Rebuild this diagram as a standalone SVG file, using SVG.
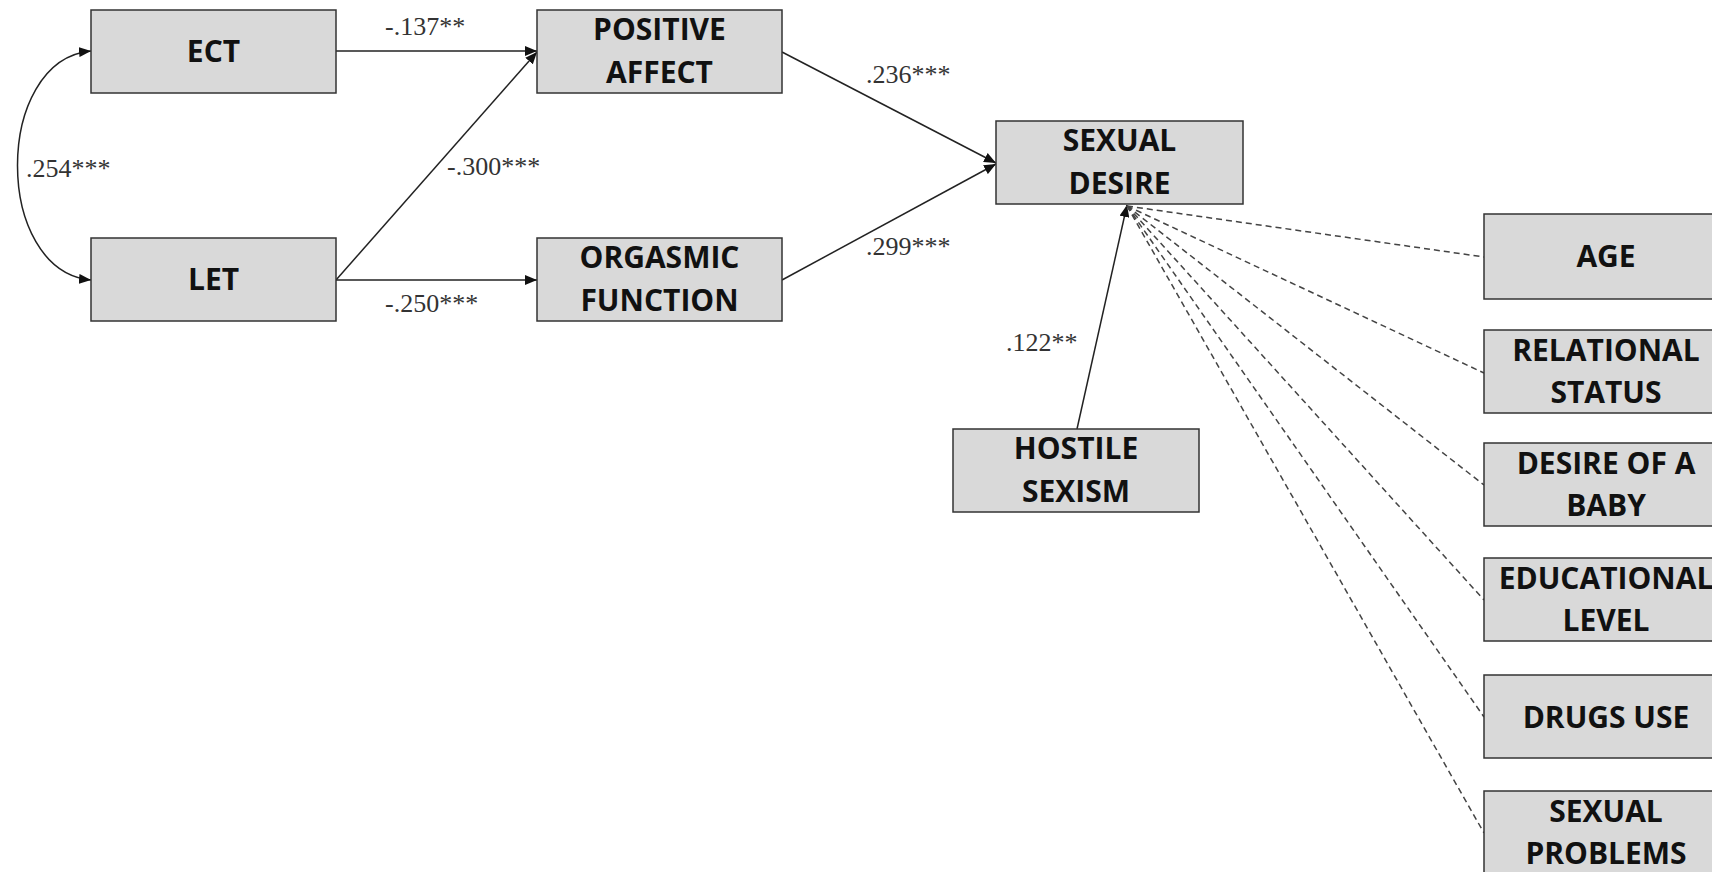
<svg xmlns="http://www.w3.org/2000/svg" width="1712" height="872" viewBox="0 0 1712 872">
<style>
.box{fill:#d9d9d9;stroke:#333;stroke-width:1.5}
.t{font-family:"Open Sans","Liberation Sans",sans-serif;font-weight:700;font-size:30px;fill:#111;text-anchor:middle}
.lbl{font-family:"Liberation Serif","Times New Roman",serif;font-size:26px;fill:#333}
.ln{fill:none;stroke:#222;stroke-width:1.5}
.ds{fill:none;stroke:#444;stroke-width:1.5;stroke-dasharray:6 4}
</style>
<defs>
<marker id="arr" viewBox="0 0 12 10" refX="12" refY="5" markerWidth="12" markerHeight="10" markerUnits="userSpaceOnUse" orient="auto-start-reverse">
<path d="M0,0 L12,5 L0,10 Z" fill="#111"/>
</marker>
</defs>
<rect width="1712" height="872" fill="#fff"/>
<g id="connectors">
<path class="ln" d="M91 51 C-7 60,-7 271,91 280" marker-start="url(#arr)" marker-end="url(#arr)"/>
<line class="ln" x1="336" y1="51" x2="537" y2="51" marker-end="url(#arr)"/>
<line class="ln" x1="336" y1="280" x2="537" y2="52" marker-end="url(#arr)"/>
<line class="ln" x1="336" y1="280" x2="537" y2="280" marker-end="url(#arr)"/>
<line class="ln" x1="782" y1="52" x2="996" y2="163" marker-end="url(#arr)"/>
<line class="ln" x1="782" y1="280" x2="996" y2="164" marker-end="url(#arr)"/>
<line class="ln" x1="1077" y1="429" x2="1127" y2="205" marker-end="url(#arr)"/>
<line class="ds" x1="1127" y1="206" x2="1484" y2="257"/>
<line class="ds" x1="1127" y1="206" x2="1484" y2="373"/>
<line class="ds" x1="1127" y1="206" x2="1484" y2="485"/>
<line class="ds" x1="1127" y1="206" x2="1484" y2="600"/>
<line class="ds" x1="1127" y1="206" x2="1484" y2="717"/>
<line class="ds" x1="1127" y1="206" x2="1484" y2="833"/>
<text class="lbl" x="385" y="35">-.137**</text>
<text class="lbl" x="26" y="177">.254***</text>
<text class="lbl" x="447" y="175">-.300***</text>
<text class="lbl" x="385" y="312">-.250***</text>
<text class="lbl" x="866" y="83">.236***</text>
<text class="lbl" x="866" y="255">.299***</text>
<text class="lbl" x="1006" y="351">.122**</text>
</g>
<g id="ect"><rect class="box" x="91" y="10" width="245" height="83"/><text class="t" x="213.5" y="62">ECT</text></g>
<g id="let"><rect class="box" x="91" y="238" width="245" height="83"/><text class="t" x="213.5" y="290">LET</text></g>
<g id="positive-affect"><rect class="box" x="537" y="10" width="245" height="83"/><text class="t" x="659.5" y="40">POSITIVE</text><text class="t" x="659.5" y="83">AFFECT</text></g>
<g id="orgasmic-function"><rect class="box" x="537" y="238" width="245" height="83"/><text class="t" x="659.5" y="268">ORGASMIC</text><text class="t" x="659.5" y="311">FUNCTION</text></g>
<g id="sexual-desire"><rect class="box" x="996" y="121" width="247" height="83"/><text class="t" x="1119.5" y="151">SEXUAL</text><text class="t" x="1119.5" y="194">DESIRE</text></g>
<g id="hostile-sexism"><rect class="box" x="953" y="429" width="246" height="83"/><text class="t" x="1076" y="459">HOSTILE</text><text class="t" x="1076" y="502">SEXISM</text></g>
<g id="age"><rect class="box" x="1484" y="214" width="245" height="85"/><text class="t" x="1606" y="267">AGE</text></g>
<g id="relational-status"><rect class="box" x="1484" y="330" width="245" height="83"/><text class="t" x="1606" y="361">RELATIONAL</text><text class="t" x="1606" y="403">STATUS</text></g>
<g id="desire-baby"><rect class="box" x="1484" y="443" width="245" height="83"/><text class="t" x="1606" y="474">DESIRE OF A</text><text class="t" x="1606" y="516">BABY</text></g>
<g id="educational-level"><rect class="box" x="1484" y="558" width="245" height="83"/><text class="t" x="1606" y="589">EDUCATIONAL</text><text class="t" x="1606" y="631">LEVEL</text></g>
<g id="drugs-use"><rect class="box" x="1484" y="675" width="245" height="83"/><text class="t" x="1606" y="728">DRUGS USE</text></g>
<g id="sexual-problems"><rect class="box" x="1484" y="791" width="245" height="83"/><text class="t" x="1606" y="822">SEXUAL</text><text class="t" x="1606" y="864">PROBLEMS</text></g>
</svg>
